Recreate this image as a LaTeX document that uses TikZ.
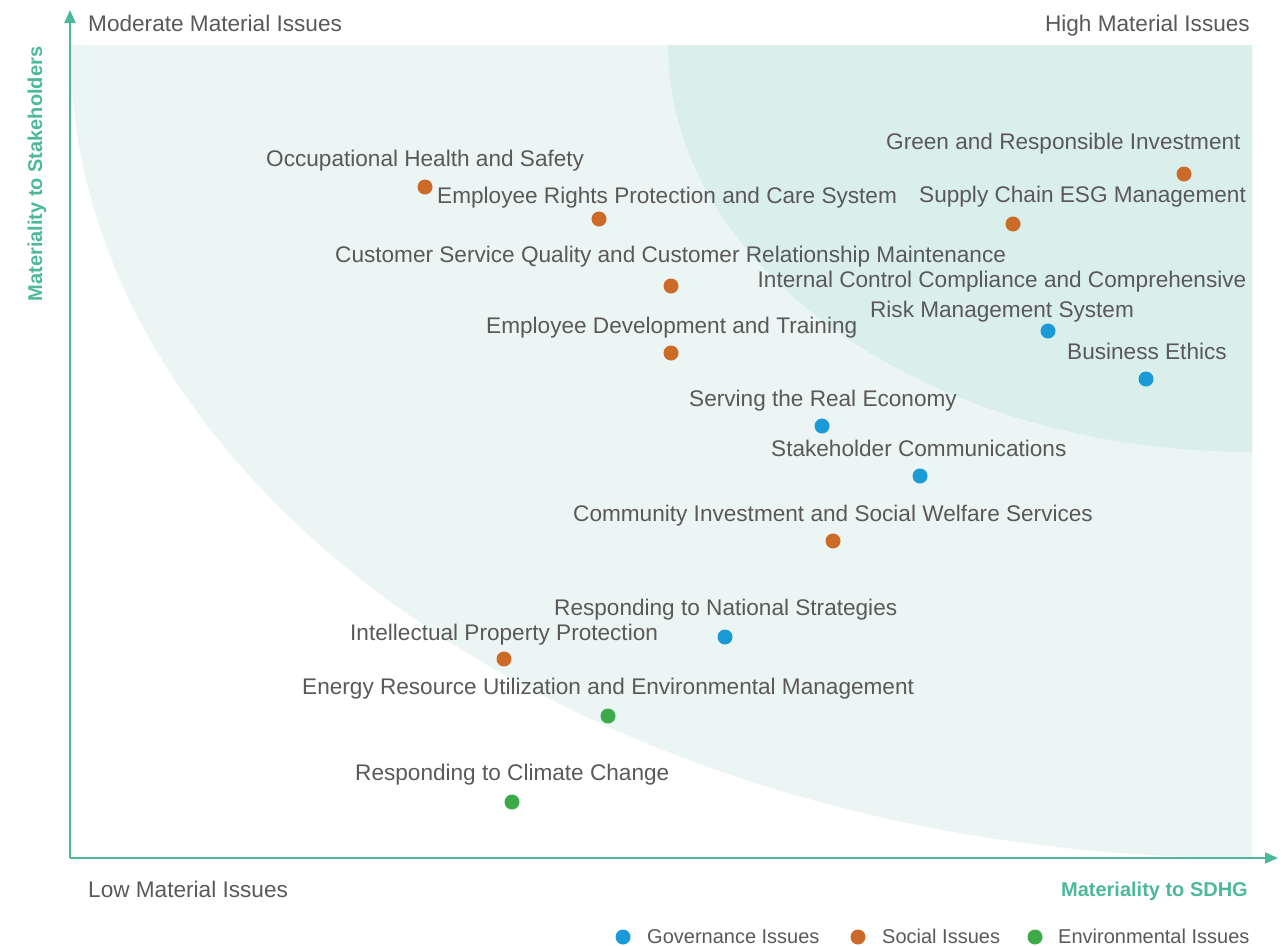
\documentclass[tikz,border=0pt]{standalone}
\usepackage{fontspec}
\setmainfont{Liberation Sans}
\usetikzlibrary{
  arrows.meta,
  positioning,
  calc
}

\definecolor{axisteal}{HTML}{4DB89B}
\definecolor{zonelight}{HTML}{EBF5F3}
\definecolor{zonedark}{HTML}{DAEEEB}
\definecolor{labelgray}{HTML}{595959}
\definecolor{govblue}{HTML}{1A9BD7}
\definecolor{socorange}{HTML}{CC6A28}
\definecolor{envgreen}{HTML}{3DAA4A}

\begin{document}
\begin{tikzpicture}[x = 1pt, y = -1pt,
    issue/.style = {anchor = base west, inner sep = 0pt, text = labelgray,
      font = \fontsize{22.6}{30}\selectfont},
    corner/.style = {issue},
    axislabel/.style = {inner sep = 0pt, text = axisteal,
      font = \fontsize{20}{24}\selectfont\bfseries},
    legendtext/.style = {issue, font = \fontsize{20}{24}\selectfont},
    dot/.style = {circle, inner sep = 0pt, minimum size = 15pt},
    gov/.style = {dot, fill = govblue},
    soc/.style = {dot, fill = socorange},
    env/.style = {dot, fill = envgreen},
    axis/.style = {draw = axisteal, line width = 2pt,
      -{Triangle[length = 13pt, width = 11pt]}}]
    \useasboundingbox (0,0) rectangle (1287,945);

    % zones
    \begin{scope}
      \clip (70,45) rectangle (1252,858);
      \fill[zonelight] (1252,45) ellipse [x radius = 1182pt, y radius = 813pt];
      \fill[zonedark] (1252,45) ellipse [x radius = 584pt, y radius = 407pt];
    \end{scope}

    % axes
    \coordinate (origin) at (70,858);
    \coordinate (ytop) at (70,10);
    \coordinate (xend) at (1278,858);
    \draw[axis] (origin) -- (ytop);
    \draw[axis] (origin) -- (xend);

    \node[corner] (moderate) at (88,31) {Moderate Material Issues};
    \node[corner, anchor = base east] (high) at (1250,31) {High Material Issues};
    \node[corner] (low) at (88,897) {Low Material Issues};
    \node[axislabel, anchor = base east] (xlabel) at (1248,896) {Materiality to SDHG};
    \node[axislabel, rotate = 90] (ylabel) at (37,174) {Materiality to Stakeholders};

    % issues
    \node[soc] (ohs) at (425,187) {};
    \node[issue] (ohstext) at (266,166) {Occupational Health and Safety};
    \node[soc] (erp) at (599,219) {};
    \node[issue] (erptext) at (437,203) {Employee Rights Protection and Care System};
    \node[soc] (csq) at (671,286) {};
    \node[issue] (csqtext) at (335,262) {Customer Service Quality and Customer Relationship Maintenance};
    \node[soc] (edt) at (671,353) {};
    \node[issue] (edttext) at (486,333) {Employee Development and Training};
    \node[gov] (sre) at (822,426) {};
    \node[issue] (sretext) at (689,406) {Serving the Real Economy};
    \node[gov] (stc) at (920,476) {};
    \node[issue] (stctext) at (771,456) {Stakeholder Communications};
    \node[soc] (cis) at (833,541) {};
    \node[issue] (cistext) at (573,521) {Community Investment and Social Welfare Services};
    \node[gov] (rns) at (725,637) {};
    \node[issue] (rnstext) at (554,615) {Responding to National Strategies};
    \node[soc] (ipp) at (504,659) {};
    \node[issue] (ipptext) at (350,640) {Intellectual Property Protection};
    \node[env] (eru) at (608,716) {};
    \node[issue] (erutext) at (302,694) {Energy Resource Utilization and Environmental Management};
    \node[env] (rcc) at (512,802) {};
    \node[issue] (rcctext) at (355,780) {Responding to Climate Change};
    \node[soc] (gri) at (1184,174) {};
    \node[issue] (gritext) at (886,149) {Green and Responsible Investment};
    \node[soc] (scm) at (1013,224) {};
    \node[issue] (scmtext) at (919,202) {Supply Chain ESG Management};
    \node[gov] (icc) at (1048,331) {};
    \node[issue, anchor = base, align = center] (icctext) at (1002,317)
      {Internal Control Compliance and Comprehensive\\Risk Management System};
    \node[gov] (bet) at (1146,379) {};
    \node[issue] (bettext) at (1067,359) {Business Ethics};

    % legend
    \node[gov] (govkey) at (623,937) {};
    \node[legendtext] (govtext) at (647,943) {Governance Issues};
    \node[soc] (sockey) at (858,937) {};
    \node[legendtext] (soctext) at (882,943) {Social Issues};
    \node[env] (envkey) at (1035,937) {};
    \node[legendtext] (envtext) at (1058,943) {Environmental Issues};
\end{tikzpicture}
\end{document}
